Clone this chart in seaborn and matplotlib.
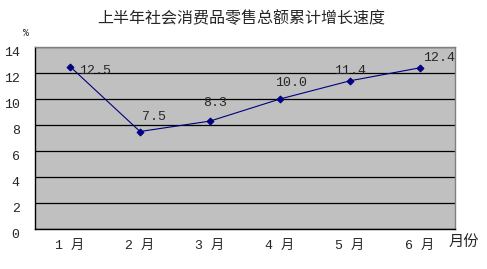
import matplotlib
matplotlib.use("Agg")
import matplotlib.pyplot as plt
import matplotlib.transforms as mtransforms
import seaborn as sns
import pandas as pd

months = ["1 月", "2 月", "3 月", "4 月", "5 月", "6 月"]
growth = [12.5, 7.5, 8.3, 10.0, 11.4, 12.4]
labels = ["12.5", "7.5", "8.3", "10.0", "11.4", "12.4"]
yticks = [0, 2, 4, 6, 8, 10, 12, 14]

# label placement (pixel offsets from each point: left edge dx, centre dy upward)
label_offsets = [(9, -4), (2, 15), (-7, 18), (-5, 16), (-16, 10), (3, 10)]

sns.set_style("white")
plt.rcParams["font.family"] = ["Liberation Mono", "Noto Sans CJK SC", "DejaVu Sans"]

df = pd.DataFrame({"month": months, "growth": growth})

fig = plt.figure(figsize=(4.87, 2.69), dpi=100)
ax = fig.add_axes([35 / 487, 40 / 269, 420 / 487, 182 / 269])
ax.set_facecolor("#C0C0C0")

sns.lineplot(data=df, x="month", y="growth", ax=ax, color="#000080",
             linewidth=0.8, marker="D", markersize=3.5,
             markeredgecolor="#000080", markerfacecolor="#000080", sort=False)

ax.set_xlim(-0.5, 5.5)
ax.set_ylim(0, 14)
ax.set_yticks(yticks)
ax.set_yticklabels([str(v) for v in yticks], fontsize=9.5)
ax.yaxis.grid(True, color="black", linewidth=0.9)
ax.set_axisbelow(True)
ax.tick_params(axis="y", length=0, pad=11)
shift = mtransforms.ScaledTranslation(0, -4.5 / 100, fig.dpi_scale_trans)
for lab in ax.get_yticklabels():
    lab.set_transform(lab.get_transform() + shift)

ax.set_xticks(range(len(months)))
ax.set_xticklabels(months, fontsize=9.5)
ax.tick_params(axis="x", length=0, pad=8)
ax.set_xticks([i - 0.5 for i in range(len(months) + 1)], minor=True)
ax.tick_params(axis="x", which="minor", direction="in", length=3, color="black")

ax.set_xlabel("")
ax.set_ylabel("")

for s in ["left", "bottom"]:
    ax.spines[s].set_color("black")
    ax.spines[s].set_linewidth(1.0)
for s in ["top", "right"]:
    ax.spines[s].set_color("#808080")
    ax.spines[s].set_linewidth(1.0)

for i, (v, t) in enumerate(zip(growth, labels)):
    dx, dy = label_offsets[i]
    ax.annotate(t, (i, v), xytext=(dx, dy), textcoords="offset pixels",
                ha="left", va="center", fontsize=9.5)

fig.text(241 / 487, 1 - 18 / 269, "上半年社会消费品零售总额累计增长速度",
         ha="center", va="center", fontsize=11.5)
fig.text(26 / 487, 1 - 33 / 269, "%", ha="center", va="center", fontsize=7)
fig.text(464 / 487, 1 - 243 / 269, "月份", ha="center", va="center", fontsize=11)

fig.savefig("out.png", dpi=100)
